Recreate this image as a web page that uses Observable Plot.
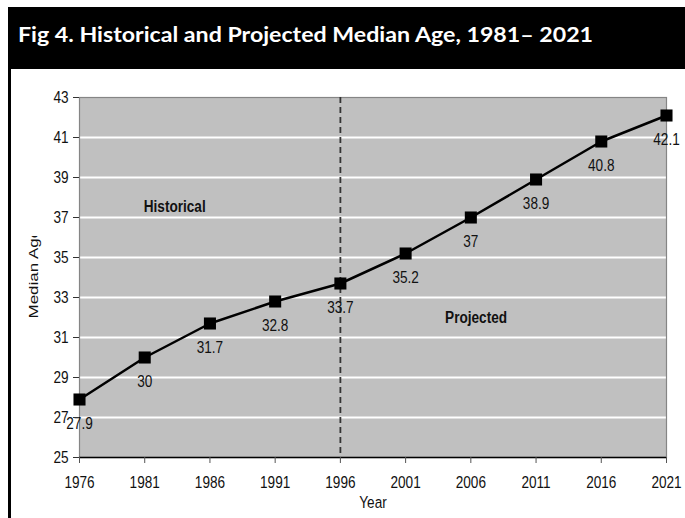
<!DOCTYPE html>
<html>
<head>
<meta charset="utf-8">
<script src="https://cdn.jsdelivr.net/npm/d3@7"></script>
<script src="https://cdn.jsdelivr.net/npm/@observablehq/plot@0.6"></script>
<style>
  html, body { margin: 0; padding: 0; background: #fff; overflow: hidden; }
  body { width: 685px; height: 518px; position: relative; }
  svg { display: block; }
  #titlebar { position: absolute; left: 8px; top: 7px; }
  #edge { position: absolute; left: 8px; top: 69px; width: 3px; height: 449px; background: #000; }
  #chart { position: absolute; left: 0; top: 69px; width: 685px; height: 449px; overflow: hidden; background: #fff; }
</style>
</head>
<body>
<div id="chart"></div>
<div id="edge"></div>
<svg id="titlebar" width="677" height="62">
  <rect width="677" height="62" fill="#000"></rect>
  <text x="10" y="35" fill="#fff" font-family="Lato, 'Open Sans', sans-serif" font-weight="bold" font-size="21"
        textLength="575" lengthAdjust="spacingAndGlyphs">Fig 4. Historical and Projected Median Age, 1981– 2021</text>
</svg>
<script>
// Census years and median age (historical up to 1996, projected after)
const years = [1976, 1981, 1986, 1991, 1996, 2001, 2006, 2011, 2016, 2021];
const medianAge = [27.9, 30, 31.7, 32.8, 33.7, 35.2, 37, 38.9, 40.8, 42.1];
const ageTicks = [25, 27, 29, 31, 33, 35, 37, 39, 41, 43];
const splitYear = 1996;

// Period annotations, placed in data units
const periodNames = ["Historical", "Projected"];
const periodYear = [1983.3, 2006.4];
const periodAge = [37.55, 32.0];

const xTitle = "Year";
const yTitle = "Median Age";

const table = years.map((year, i) => ({year, age: medianAge[i]}));
const periods = periodNames.map((name, i) => ({name, year: periodYear[i], age: periodAge[i]}));
const gridAges = ageTicks.filter(a => a > ageTicks[0] && a < ageTicks[ageTicks.length - 1]);

const font = "'Liberation Sans', Arial, Helvetica, sans-serif";

const svg = Plot.plot({
  width: 685,
  height: 449,
  marginTop: 28,
  marginBottom: 61,
  marginLeft: 79,
  marginRight: 19,
  style: {fontFamily: font, fontSize: "17px", color: "#111", background: "transparent", overflow: "hidden"},
  x: {domain: [years[0], years[years.length - 1]], label: null},
  y: {domain: [ageTicks[0], ageTicks[ageTicks.length - 1]], label: null},
  marks: [
    Plot.frame({fill: "#c0c0c0", stroke: "none"}),
    Plot.ruleY(gridAges, {stroke: "#fff", strokeWidth: 2}),
    Plot.frame({fill: "none", stroke: "#858585", strokeWidth: 1.2}),
    Plot.ruleY([ageTicks[0]], {stroke: "#000", strokeWidth: 1.5}),
    Plot.ruleX([splitYear], {stroke: "#333", strokeWidth: 1.8, strokeDasharray: "6,4"}),
    Plot.line(table, {x: "year", y: "age", stroke: "#000", strokeWidth: 2.5}),
    Plot.dot(table, {x: "year", y: "age", symbol: "square", r: 6.8, fill: "#000", stroke: "none"}),
    Plot.text(table, {x: "year", y: "age", text: d => String(d.age), dy: 24, fill: "#111"}),
    Plot.text(periods, {x: "year", y: "age", text: "name", fontWeight: "bold", fill: "#111"}),
    Plot.axisX({ticks: years, tickFormat: "d", tickSize: 6, tickPadding: 12, stroke: "#555", label: null}),
    Plot.axisY({ticks: ageTicks, tickSize: 6, tickPadding: 5, stroke: "#333", label: null}),
    Plot.text([xTitle], {frameAnchor: "bottom", text: d => d, dy: 45, lineAnchor: "middle"}),
    Plot.text([yTitle], {frameAnchor: "left", text: d => d, dx: -46, dy: 41, rotate: -90,
      textAnchor: "start", lineAnchor: "middle"})
  ]
});

// Narrow the Arial glyphs a little so the labels read condensed
let yTitleNode = null;
for (const t of svg.querySelectorAll("text")) {
  const x = +t.getAttribute("x") || 0, y = +t.getAttribute("y") || 0;
  const tr = t.getAttribute("transform") || "";
  const rotated = t.textContent === yTitle;
  if (rotated) yTitleNode = t;
  const s = rotated ? "scale(1,0.8)" : "scale(0.8,1)";
  t.setAttribute("transform", `${tr} translate(${x},${y}) ${s} translate(${-x},${-y})`);
}

// The vertical axis title is cut off at its top end
const ns = "http://www.w3.org/2000/svg";
const defs = document.createElementNS(ns, "defs");
const clip = document.createElementNS(ns, "clipPath");
clip.setAttribute("id", "ytitle-clip");
clip.setAttribute("clipPathUnits", "userSpaceOnUse");
const cr = document.createElementNS(ns, "rect");
cr.setAttribute("x", 0); cr.setAttribute("y", 167);
cr.setAttribute("width", 79); cr.setAttribute("height", 282);
clip.appendChild(cr); defs.appendChild(clip); svg.insertBefore(defs, svg.firstChild);
if (yTitleNode) {
  // clip from an untransformed wrapper so the rect is in plot coordinates
  const markGroup = yTitleNode.parentNode;
  const wrap = document.createElementNS(ns, "g");
  wrap.setAttribute("clip-path", "url(#ytitle-clip)");
  markGroup.parentNode.insertBefore(wrap, markGroup);
  wrap.appendChild(markGroup);
}

document.getElementById("chart").appendChild(svg);
</script>
</body>
</html>
